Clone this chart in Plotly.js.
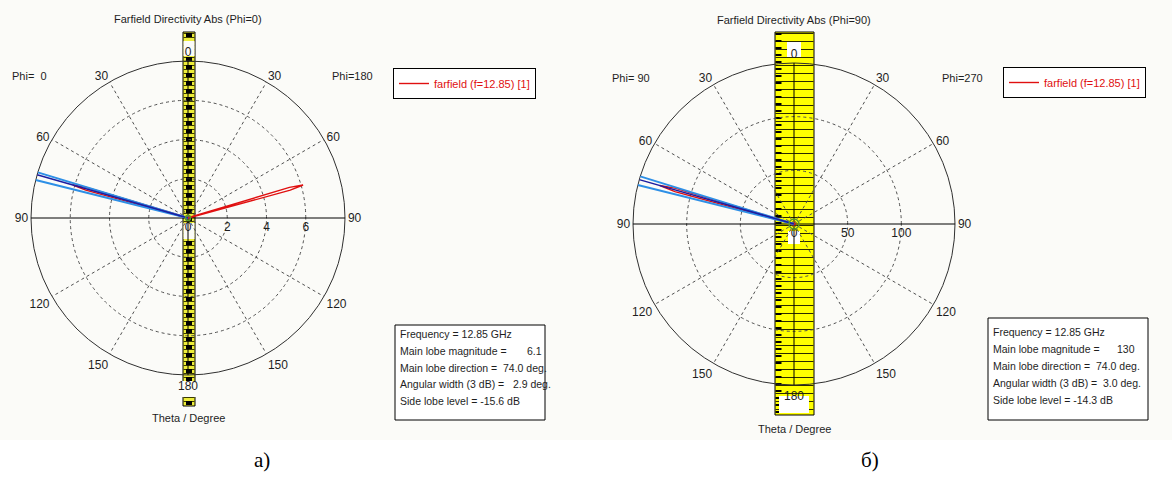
<!DOCTYPE html>
<html><head><meta charset="utf-8">
<script src="https://cdn.plot.ly/plotly-3.0.1.min.js"></script>
<style>html,body{margin:0;padding:0;background:#fff;}</style>
</head><body>
<div id="chart" style="width:1172px;height:479px;"></div>
<script>
// ---------- data ----------
const angleTickVals = [0,30,60,90,120,150,180,210,240,270,300,330];
const angleTickText = ['0','30','60','90','120','150','180','150','120','90','60','30'];
const gridAngles = [30,60,120,150,210,240,300,330];

const radialRangeA = [0, 8];
const radialTicksA = [0, 2, 4, 6];
const radialRangeB = [0, 150];
const radialTicksB = [0, 50, 100];

// signed theta: negative = left half (Phi=0 / Phi=90), positive = right half (Phi=180 / Phi=270)
const thetaA = [-180,-120,-90,-78,-75.6,-74.8,-74,-73.2,-72.4,-70,-40,0,40,70,72.4,73.2,74,74.8,75.6,78,90,120,180];
const dirA   = [0.02,0.03,0.05,0.2,0.5,5.4,6.1,5.4,0.5,0.2,0.05,0.03,0.05,0.2,0.5,5.4,6.1,5.4,0.5,0.2,0.05,0.03,0.02];
const thetaB = [-180,-120,-90,-78,-75.6,-74.8,-74,-73.2,-72.4,-70,-40,0,40,90,180];
const dirB   = [1,1,2,4,12,115,130,115,12,4,1,1,1,1,1];

const mainDirA = -74.0, beamEdgesA = [-73.1, -76.0];
const mainDirB = -74.0, beamEdgesB = [-72.8, -76.0];

const legendLabel = 'farfield (f=12.85) [1]';
const titleA = 'Farfield Directivity Abs (Phi=0)';
const titleB = 'Farfield Directivity Abs (Phi=90)';
const sideLabelsA = ['Phi=\u00a0\u00a00', 'Phi=180'];
const sideLabelsB = ['Phi=\u00a090', 'Phi=270'];
const axisTitle = 'Theta / Degree';
const infoLabels = ['Frequency = ', 'Main lobe magnitude = ', 'Main lobe direction = ', 'Angular width (3 dB) = ', 'Side lobe level = '];
const infoA = ['12.85 GHz', '\u00a0\u00a0\u00a0\u00a0\u00a0\u00a06.1', '\u00a074.0 deg.', '\u00a0\u00a02.9 deg.', '-15.6 dB'];
const infoB = ['12.85 GHz', '\u00a0\u00a0\u00a0\u00a0\u00a0130', '\u00a074.0 deg.', '\u00a03.0 deg.', '-14.3 dB'];
const panelLabels = ['а)', 'б)'];

// ---------- helpers ----------
const W = 1172, H = 479;
const px = x => x / W;
const py = y => 1 - y / H;
const toPlot = t => (t < 0 ? 360 + t : t);

const FONT = 'Liberation Sans, Arial, sans-serif';
const TXT = '#1e1e1e';
const GRID = '#505050';

function axisTraces(sub, R) {
  const out = [
    {type:'scatterpolar', subplot:sub, r:[R[1],0,R[1]], theta:[90,0,270], mode:'lines',
     line:{color:'#000', width:1}, hoverinfo:'skip', showlegend:false},
    {type:'scatterpolar', subplot:sub, r:[R[1],0,R[1]], theta:[0,0,180], mode:'lines',
     line:{color:'#000', width:1}, hoverinfo:'skip', showlegend:false}
  ];
  // dashed angular grid spokes (30-degree steps except the solid axes)
  gridAngles.forEach(a => out.push({type:'scatterpolar', subplot:sub, r:[0,R[1]], theta:[a,a], mode:'lines',
    line:{color:GRID, width:1, dash:'3px,3px'}, hoverinfo:'skip', showlegend:false}));
  return out;
}
function lobeLines(sub, R, mainDir, edges) {
  const out = [];
  edges.forEach(e => out.push({type:'scatterpolar', subplot:sub, r:[0,R[1]], theta:[toPlot(e),toPlot(e)],
    mode:'lines', line:{color:'#2d8fe6', width:2}, hoverinfo:'skip', showlegend:false}));
  out.push({type:'scatterpolar', subplot:sub, r:[0,R[1]], theta:[toPlot(mainDir),toPlot(mainDir)],
    mode:'lines', line:{color:'#1c1ca0', width:1.5}, hoverinfo:'skip', showlegend:false});
  return out;
}

const traces = [
  ...axisTraces('polar', radialRangeA),
  ...axisTraces('polar2', radialRangeB),
  {type:'scatterpolar', subplot:'polar', r:dirA, theta:thetaA.map(toPlot), mode:'lines',
   line:{color:'#e01010', width:1.4}, name:legendLabel, legend:'legend', hoverinfo:'r+theta'},
  {type:'scatterpolar', subplot:'polar2', r:dirB, theta:thetaB.map(toPlot), mode:'lines',
   line:{color:'#e01010', width:1.4}, name:legendLabel, legend:'legend2', hoverinfo:'r+theta'},
  ...lobeLines('polar', radialRangeA, mainDirA, beamEdgesA),
  ...lobeLines('polar2', radialRangeB, mainDirB, beamEdgesB),
  {type:'scatterpolar', subplot:'polar', r:[0], theta:[0], mode:'markers',
   marker:{symbol:'circle-open', size:5, color:'#5a9a2a', line:{width:1.5}}, hoverinfo:'skip', showlegend:false},
  {type:'scatterpolar', subplot:'polar2', r:[0], theta:[0], mode:'markers',
   marker:{symbol:'circle-open', size:10, color:'#5a9a2a', line:{width:1.5}}, hoverinfo:'skip', showlegend:false}
];

function polarLayout(domX, domY, R, ticks) {
  return {
    domain:{x:domX, y:domY},
    bgcolor:'rgba(0,0,0,0)',
    angularaxis:{rotation:90, direction:'clockwise', tickmode:'array', tickvals:angleTickVals, ticktext:angleTickText,
      showline:true, linecolor:'#303030', linewidth:1, showgrid:false,
      ticks:'', layer:'below traces', tickfont:{family:FONT, size:12, color:TXT}},
    radialaxis:{range:R, tickmode:'array', tickvals:ticks, angle:0, showline:false, showgrid:true,
      gridcolor:GRID, griddash:'3px,3px', gridwidth:1, ticks:'', tickangle:0, layer:'below traces',
      tickfont:{family:FONT, size:12, color:TXT}}
  };
}

function rect(x0,y0,x1,y1,fill,lw) {
  return {type:'rect', xref:'paper', yref:'paper', x0:px(x0), x1:px(x1), y0:py(y1), y1:py(y0),
    fillcolor:fill, line:{color:'#000', width:lw||0}, layer:'below'};
}
function vline(x,y0,y1,w,dash,color) {
  return {type:'line', xref:'paper', yref:'paper', x0:px(x), x1:px(x), y0:py(y0), y1:py(y1),
    line:{color:color, width:w, dash:dash}, layer:'below'};
}

const shapes = [
  rect(0,0,1172,440,'#fbfbf8',0),
  // panel a yellow bar
  rect(183,32,195,406,'#eded3a',1),
  vline(189,33,405,11,'1px,3px','#3a3a00'),
  vline(189,33,405,6,'4px,4px','#000'),
  rect(183.5,41,194.5,56,'#fbfbf8',0),
  rect(183.5,223,194.5,239,'#fbfbf8',0),
  rect(178,381,199,397,'#fbfbf8',0),
  // panel b yellow bar
  rect(775,32,814,415,'#ffff00',1),
  vline(794.5,33,414,38,'1px,7px','#2a2a00'),
  vline(778.5,33,414,6,'2px,5px','#000'),
  rect(787,42,801,57,'#ffffff',0),
  rect(788,231,800,244,'#ffffff',0),
  rect(779,396,809,413,'#ffffff',0),
  // info boxes
  Object.assign(rect(395,325,545,420,'#ffffff',1), {layer:'above'}),
  Object.assign(rect(988,318,1148,420,'#ffffff',1), {layer:'above'})
];

function ann(text,x,y,opts) {
  return Object.assign({text:text, x:px(x), y:py(y), xref:'paper', yref:'paper', showarrow:false,
    xanchor:'center', yanchor:'middle', font:{family:FONT, size:11, color:TXT}}, opts||{});
}
function infoLines(vals, x, yFirst, step) {
  return infoLabels.map((l,i) => ann(l + vals[i], x, yFirst + i*step,
    {xanchor:'left', font:{family:FONT, size:10.5, color:TXT}}));
}

const annotations = [
  ann(titleA,188,19), ann(sideLabelsA[0],10,76,{xanchor:'left'}), ann(sideLabelsA[1],330,76,{xanchor:'left'}),
  ann(axisTitle,188,418),
  ann(titleB,794,20), ann(sideLabelsB[0],610,78,{xanchor:'left'}), ann(sideLabelsB[1],940,78,{xanchor:'left'}),
  ann(axisTitle,794,429),
  ...infoLines(infoA,398,334,16.8), ...infoLines(infoB,991,332,16.9),
  ann(panelLabels[0],262,460,{font:{family:'Liberation Serif, Times New Roman, serif', size:21, color:'#000'}}),
  ann(panelLabels[1],870,460,{font:{family:'Liberation Serif, Times New Roman, serif', size:21, color:'#000'}})
];

function legendCfg(x,y) {
  return {x:px(x), y:py(y), xanchor:'left', yanchor:'top', bgcolor:'#ffffff', bordercolor:'#000', borderwidth:1,
    font:{family:FONT, size:11, color:'#e01010'}, itemwidth:30, tracegroupgap:0, valign:'middle'};
}

const layout = {
  width:W, height:H, margin:{l:0,r:0,t:0,b:0}, paper_bgcolor:'#ffffff',
  showlegend:true,
  polar: polarLayout([px(31),px(345)], [py(375),py(61)], radialRangeA, radialTicksA),
  polar2: polarLayout([px(633),px(955)], [py(385),py(63)], radialRangeB, radialTicksB),
  legend: legendCfg(393,68),
  legend2: legendCfg(1003,67),
  shapes: shapes,
  annotations: annotations
};

Plotly.newPlot('chart', traces, layout, {displayModeBar:false, staticPlot:true});
</script>
</body></html>
